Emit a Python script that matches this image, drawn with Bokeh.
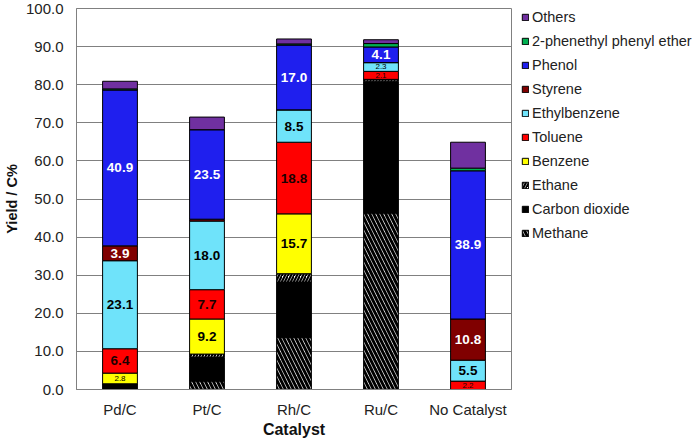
from bokeh.plotting import figure
from bokeh.models import (ColumnDataSource, Range1d, FactorRange, FixedTicker,
                          PrintfTickFormatter, Legend, LegendItem)
from bokeh.transform import stack
from bokeh.core.properties import value
from bokeh.embed import file_html
from bokeh.resources import INLINE

catalysts = ["Pd/C", "Pt/C", "Rh/C", "Ru/C", "No Catalyst"]
methane = [0.0, 2.2, 13.7, 46.3, 0.0]
carbon_dioxide = [1.5, 6.2, 14.5, 34.5, 0.0]
ethane = [0.0, 0.9, 2.2, 0.6, 0.0]
benzene = [2.8, 9.2, 15.7, 0.0, 0.0]
toluene = [6.4, 7.7, 18.8, 2.1, 2.2]
ethylbenzene = [23.1, 18.0, 8.5, 2.3, 5.5]
styrene = [3.9, 0.5, 0.0, 0.0, 10.8]
phenol = [40.9, 23.5, 17.0, 4.1, 38.9]
phenethyl_phenyl_ether = [0.3, 0.0, 0.3, 0.9, 0.7]
others = [2.0, 3.3, 1.3, 1.0, 6.8]
y_ticks = [0, 10, 20, 30, 40, 50, 60, 70, 80, 90, 100]

series = [
    ("methane", "Methane", methane),
    ("co2", "Carbon dioxide", carbon_dioxide),
    ("ethane", "Ethane", ethane),
    ("benzene", "Benzene", benzene),
    ("toluene", "Toluene", toluene),
    ("ethylbenzene", "Ethylbenzene", ethylbenzene),
    ("styrene", "Styrene", styrene),
    ("phenol", "Phenol", phenol),
    ("ppe", "2-phenethyl phenyl ether", phenethyl_phenyl_ether),
    ("others", "Others", others),
]
styles = {
    "methane": dict(fill_color="white", hatch_pattern="left_diagonal_line", hatch_color="black",
                    hatch_weight=3, hatch_scale=8),
    "co2": dict(fill_color="black"),
    "ethane": dict(fill_color="white", hatch_pattern="right_diagonal_line", hatch_color="black",
                   hatch_weight=2.2, hatch_scale=6),
    "benzene": dict(fill_color="#FFFF00"),
    "toluene": dict(fill_color="#FF0000"),
    "ethylbenzene": dict(fill_color="#6FE3FA"),
    "styrene": dict(fill_color="#800000"),
    "phenol": dict(fill_color="#1F1FEE"),
    "ppe": dict(fill_color="#00B050"),
    "others": dict(fill_color="#7030A0"),
}
labelled = {"benzene": "black", "toluene": "#1a0000", "ethylbenzene": "black",
            "styrene": "white", "phenol": "white"}

data = {"cat": catalysts}
for key, _, vals in series:
    data[key] = vals
src = ColumnDataSource(data)

p = figure(x_range=FactorRange(*catalysts), y_range=Range1d(0, 100),
           frame_width=435, frame_height=381,
           output_backend="svg", toolbar_location=None,
           min_border_left=70, min_border_top=8, min_border_right=184, min_border_bottom=0)
p.background_fill_color = "white"
p.outline_line_color = "#808080"
p.xgrid.grid_line_color = None
p.ygrid.grid_line_color = "#808080"
p.ygrid.ticker = FixedTicker(ticks=y_ticks)

yax = p.yaxis[0]
yax.ticker = FixedTicker(ticks=y_ticks)
yax.formatter = PrintfTickFormatter(format="%.1f")
yax.major_tick_out = 0
yax.major_tick_in = 0
yax.minor_tick_line_color = None
yax.axis_line_color = "#808080"
yax.major_label_text_font = "Liberation Sans"
yax.major_label_text_font_size = "15px"
yax.major_label_text_color = "#222222"
yax.major_label_standoff = 13
yax.axis_label = "Yield / C%"
yax.axis_label_text_font = "Liberation Sans"
yax.axis_label_text_font_size = "14.5px"
yax.axis_label_text_font_style = "bold"
yax.axis_label_text_color = "#111111"
yax.axis_label_standoff = 3

xax = p.xaxis[0]
xax.axis_line_color = "#808080"
xax.major_tick_line_color = None
xax.major_tick_out = 0
xax.major_tick_in = 0
xax.major_label_text_font = "Liberation Sans"
xax.major_label_text_font_size = "15px"
xax.major_label_text_color = "#222222"
xax.major_label_standoff = 11
xax.axis_label = "Catalyst"
xax.axis_label_text_font = "Liberation Sans"
xax.axis_label_text_font_size = "16px"
xax.axis_label_text_font_style = "bold"
xax.axis_label_text_color = "#111111"
xax.axis_label_standoff = 0

renderers = {}
keys = [k for k, _, _ in series]
for i, (key, name, vals) in enumerate(series):
    bottom = stack(*keys[:i]) if i else 0
    r = p.vbar(x="cat", bottom=bottom, top=stack(*keys[:i + 1]), width=0.4, source=src,
               line_color="black", line_width=1, **styles[key])
    renderers[key] = r

# value labels
big = dict(x=[], y=[], text=[], color=[])
small = dict(x=[], y=[], text=[], color=[])
for j, cat in enumerate(catalysts):
    base = 0.0
    for key, name, vals in series:
        v = vals[j]
        if key in labelled and v >= 2.0:
            d = small if v < 3.0 else big
            d["x"].append(cat)
            d["y"].append(base + v / 2)
            d["text"].append(f"{v:.1f}")
            d["color"].append(labelled[key])
        base += v
p.text(x="x", y="y", text="text", text_color="color", source=ColumnDataSource(big),
       text_align="center", text_baseline="middle", text_font=value("Liberation Sans"),
       text_font_style="bold", text_font_size="13.5px")
p.text(x="x", y="y", text="text", text_color="color", source=ColumnDataSource(small),
       text_align="center", text_baseline="middle", text_font=value("Liberation Sans"),
       text_font_size="8px")

items = [LegendItem(label=name, renderers=[renderers[key]]) for key, name, _ in reversed(series)]
legend = Legend(items=items, location=(10, 148), border_line_color=None,
                background_fill_alpha=0, label_text_font="Liberation Sans",
                label_text_font_size="14.5px", label_text_color="#222222",
                glyph_width=8, glyph_height=8, label_height=17, spacing=7,
                padding=0, margin=0, label_standoff=3)
p.add_layout(legend, "right")

open("out.html", "w").write(file_html(p, INLINE))
